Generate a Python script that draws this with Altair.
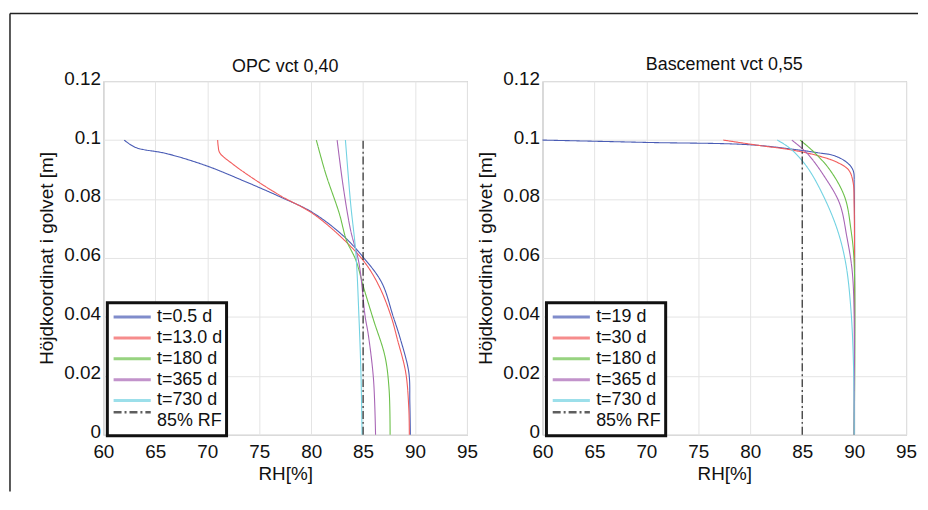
import altair as alt
import pandas as pd

FONT = "Liberation Sans, Arial, sans-serif"

# ---------------- data ----------------
left_title = "OPC vct 0,40"
right_title = "Bascement vct 0,55"
left_labels = ["t=0.5 d", "t=13.0 d", "t=180 d", "t=365 d", "t=730 d", "85% RF"]
right_labels = ["t=19 d", "t=30 d", "t=180 d", "t=365 d", "t=730 d", "85% RF"]
colors = ["#4a5cb5", "#f25c5c", "#6cc04a", "#a865b5", "#72d2e2", "#1a1a1a"]
dashes = [[1, 0], [1, 0], [1, 0], [1, 0], [1, 0], [8, 3, 2, 3]]
legend_paths = ["M-2.2,0H2.2"] * 5 + ["M-2.2,-1.1H2.2"]

x_ticks = [60, 65, 70, 75, 80, 85, 90, 95]
y_ticks = [0, 0.02, 0.04, 0.06, 0.08, 0.1, 0.12]

# OPC vct 0,40 (RH %, height m)
opc_05_rh = [62.0, 63.1, 66.1, 69.9, 73.4, 77.1, 80.1, 83.0, 85.0, 86.8, 87.9, 88.6, 89.4, 89.5, 89.55]
opc_05_h = [0.100, 0.0975, 0.0954, 0.0913, 0.0863, 0.0806, 0.0755, 0.0678, 0.0603, 0.0516, 0.0401, 0.0324, 0.0212, 0.011, 0.0]
opc_13_rh = [71.0, 71.05, 71.2, 72.4, 74.7, 77.1, 80.1, 83.0, 85.2, 86.6, 87.7, 88.3, 89.1, 89.4, 89.45]
opc_13_h = [0.100, 0.098, 0.0957, 0.092, 0.0863, 0.081, 0.0752, 0.0667, 0.0583, 0.050, 0.0401, 0.0324, 0.0212, 0.009, 0.0]
opc_180_rh = [80.5, 81.4, 82.7, 83.4, 84.3, 85.05, 86.0, 87.1, 87.5, 87.6]
opc_180_h = [0.100, 0.0886, 0.0752, 0.066, 0.0593, 0.050, 0.039, 0.0267, 0.0155, 0.0]
opc_365_rh = [82.5, 83.1, 83.8, 84.6, 85.2, 85.5, 86.0, 86.2]
opc_365_h = [0.100, 0.0839, 0.0694, 0.0583, 0.0401, 0.0340, 0.0189, 0.0]
opc_730_rh = [83.3, 83.8, 84.3, 84.6, 84.8, 84.9]
opc_730_h = [0.100, 0.0785, 0.0617, 0.0401, 0.020, 0.0]

# Bascement vct 0,55
bas_19_rh = [60.0, 70.0, 80.0, 84.5, 86.5, 88.1, 89.3, 89.9, 90.0, 90.0]
bas_19_h = [0.100, 0.0992, 0.0984, 0.0967, 0.0957, 0.0947, 0.0924, 0.0897, 0.0839, 0.0]
bas_30_rh = [77.4, 81.0, 83.9, 86.5, 88.4, 89.5, 89.9, 90.0, 90.0]
bas_30_h = [0.100, 0.0981, 0.0967, 0.0947, 0.0924, 0.0897, 0.0856, 0.078, 0.0]
bas_180_rh = [84.8, 86.2, 87.7, 89.1, 89.7, 90.0, 90.0]
bas_180_h = [0.100, 0.0957, 0.0897, 0.0806, 0.0694, 0.0583, 0.0]
bas_365_rh = [84.0, 85.5, 87.2, 88.6, 89.3, 89.8, 90.0, 90.0]
bas_365_h = [0.100, 0.0954, 0.0873, 0.0785, 0.0671, 0.056, 0.041, 0.0]
bas_730_rh = [82.6, 83.9, 85.5, 87.1, 88.4, 89.2, 89.7, 89.95, 90.0]
bas_730_h = [0.100, 0.097, 0.0907, 0.0806, 0.0694, 0.058, 0.042, 0.022, 0.0]

rf_rh = [85.0, 85.0]
rf_h = [0.0, 0.1]

left_series = [(opc_05_rh, opc_05_h), (opc_13_rh, opc_13_h), (opc_180_rh, opc_180_h),
               (opc_365_rh, opc_365_h), (opc_730_rh, opc_730_h), (rf_rh, rf_h)]
right_series = [(bas_19_rh, bas_19_h), (bas_30_rh, bas_30_h), (bas_180_rh, bas_180_h),
                (bas_365_rh, bas_365_h), (bas_730_rh, bas_730_h), (rf_rh, rf_h)]


def frame(labels, series):
    rows = []
    for lab, (xs, ys) in zip(labels, series):
        for i, (x, y) in enumerate(zip(xs, ys)):
            rows.append({"rh": x, "h": y, "series": lab, "i": i})
    return pd.DataFrame(rows)


one = pd.DataFrame({"a": [0]})

W, H = 366, 356


def panel(title, labels, series, with_frame):
    df = frame(labels, series)
    leg = alt.Legend(
        title=None, orient="none", legendX=4, legendY=223,
        symbolType="M-2.2,0H2.2", symbolSize=289, symbolStrokeWidth=3,
        symbolOffset=11, labelOffset=15, labelFontSize=18, labelFont=FONT,
        labelColor="#111", labelLimit=300, rowPadding=0, padding=4, clipHeight=21,
    )
    xenc = alt.X("rh:Q", scale=alt.Scale(domain=[60, 95], nice=False),
                 axis=alt.Axis(values=x_ticks, title="RH[%]", labelPadding=8, titlePadding=3,
                               labelFlush=False))
    yenc = alt.Y("h:Q", scale=alt.Scale(domain=[0, 0.12], nice=False),
                 axis=alt.Axis(values=y_ticks, format=".2~f", title="Höjdkoordinat i golvet [m]",
                               labelPadding=3, titlePadding=7, labelFlush=False, labelOffset=-3))
    cenc = alt.Color("series:N", scale=alt.Scale(domain=labels, range=colors), legend=leg)
    denc = alt.StrokeDash("series:N", scale=alt.Scale(domain=labels, range=dashes), legend=leg)
    senc = alt.Shape("series:N", scale=alt.Scale(domain=labels, range=legend_paths), legend=leg)
    lines = alt.Chart(df).mark_line(strokeWidth=1.1, interpolate="catmull-rom").encode(
        x=xenc, y=yenc, color=cenc, strokeDash=denc, order="i:Q",
    )
    # legend-only layer (no marks drawn) giving each legend entry its symbol path
    keys = alt.Chart(df).transform_filter("false").mark_point().encode(
        x=xenc, y=yenc, color=cenc, strokeDash=denc, shape=senc,
    )
    layers = [lines, keys]
    title_dy = 10
    if with_frame:
        top = alt.Chart(one).mark_rule(color="#222", strokeWidth=1.5).encode(
            x=alt.value(-94), x2=alt.value(820), y=alt.value(-68))
        left = alt.Chart(one).mark_rule(color="#222", strokeWidth=1.5).encode(
            x=alt.value(-94), y=alt.value(-68), y2=alt.value(413))
        layers += [top, left]
        title_dy = 69
    return alt.layer(*layers).properties(
        width=W, height=H,
        title=alt.TitleParams(title, fontSize=18, fontWeight="normal", font=FONT,
                              color="#111", offset=5, frame="group", dy=title_dy),
    )


chart = alt.hconcat(
    panel(left_title, left_labels, left_series, True),
    panel(right_title, right_labels, right_series, False),
    spacing=76, bounds="flush",
).resolve_scale(color="independent", strokeDash="independent", shape="independent").properties(
    padding={"left": 0, "top": 2, "right": 0, "bottom": 0}
).configure(font=FONT).configure_view(
    stroke="#a0a0a0", strokeWidth=1
).configure_axis(
    grid=True, gridColor="#e4e4e4", gridWidth=1, domain=False, ticks=False,
    labelFont=FONT, titleFont=FONT, labelFontSize=19, titleFontSize=19,
    titleFontWeight="normal", labelColor="#111", titleColor="#111",
).configure_legend(
    strokeColor="#111", strokeWidth=3, fillColor="white",
)

chart.save("out.html", embed_options={"renderer": "svg", "actions": False})
